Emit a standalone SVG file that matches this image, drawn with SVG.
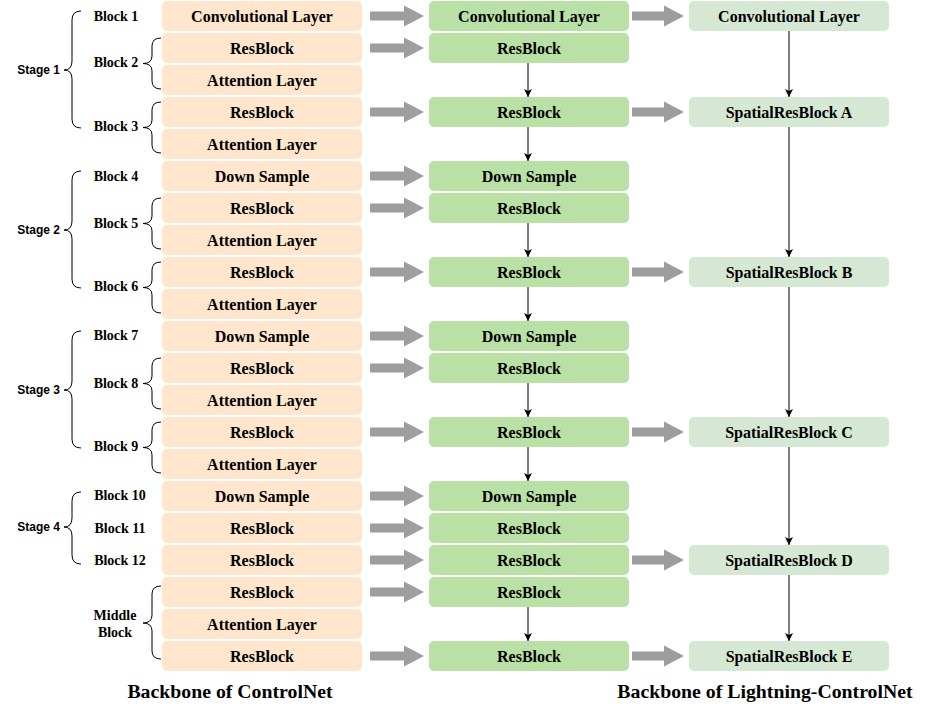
<svg xmlns="http://www.w3.org/2000/svg" xmlns:xlink="http://www.w3.org/1999/xlink" width="926" height="711" viewBox="0 0 926 711">
<style>
.l{fill:#FFE6CC}
.m{fill:#B9E0A5}
.r{fill:#D5E8D4}
.t{font-family:"Liberation Serif","Times New Roman",serif;font-weight:bold;font-size:16px;fill:#000;text-anchor:middle;dominant-baseline:central}
.b{font-family:"Liberation Serif","Times New Roman",serif;font-weight:bold;font-size:14px;fill:#000;text-anchor:middle;dominant-baseline:central}
.s{font-family:"Liberation Sans",Arial,sans-serif;font-weight:bold;font-size:12px;fill:#000;text-anchor:end;dominant-baseline:central}
.h{font-family:"Liberation Serif","Times New Roman",serif;font-weight:bold;font-size:19.8px;fill:#000;text-anchor:middle;dominant-baseline:central}
.br{fill:none;stroke:#000;stroke-width:1}
.ga{fill:#9E9E9E}
.ka{stroke:#000;stroke-width:1;fill:none;marker-end:url(#ah)}
</style>
<defs>
<marker id="ah" viewBox="0 0 8 10" refX="8" refY="5" markerWidth="8" markerHeight="10" markerUnits="userSpaceOnUse" orient="auto">
<path d="M0,1 L8,5 L0,9 L2,5 Z" fill="#000"/>
</marker>
<polygon id="gL" points="0,-4.5 34,-4.5 34,-10.5 54,0 34,10.5 34,4.5 0,4.5"/>
<polygon id="gR" points="0,-4.5 32,-4.5 32,-10.5 52,0 32,10.5 32,4.5 0,4.5"/>
</defs>
<rect width="926" height="711" fill="#fff"/>

<g id="controlnet">
<g id="l0"><rect class="l" x="162" y="1" width="200" height="30" rx="5"/><text class="t" x="262" y="16">Convolutional Layer</text></g>
<g id="l1"><rect class="l" x="162" y="33" width="200" height="30" rx="5"/><text class="t" x="262" y="48">ResBlock</text></g>
<g id="l2"><rect class="l" x="162" y="65" width="200" height="30" rx="5"/><text class="t" x="262" y="80">Attention Layer</text></g>
<g id="l3"><rect class="l" x="162" y="97" width="200" height="30" rx="5"/><text class="t" x="262" y="112">ResBlock</text></g>
<g id="l4"><rect class="l" x="162" y="129" width="200" height="30" rx="5"/><text class="t" x="262" y="144">Attention Layer</text></g>
<g id="l5"><rect class="l" x="162" y="161" width="200" height="30" rx="5"/><text class="t" x="262" y="176">Down Sample</text></g>
<g id="l6"><rect class="l" x="162" y="193" width="200" height="30" rx="5"/><text class="t" x="262" y="208">ResBlock</text></g>
<g id="l7"><rect class="l" x="162" y="225" width="200" height="30" rx="5"/><text class="t" x="262" y="240">Attention Layer</text></g>
<g id="l8"><rect class="l" x="162" y="257" width="200" height="30" rx="5"/><text class="t" x="262" y="272">ResBlock</text></g>
<g id="l9"><rect class="l" x="162" y="289" width="200" height="30" rx="5"/><text class="t" x="262" y="304">Attention Layer</text></g>
<g id="l10"><rect class="l" x="162" y="321" width="200" height="30" rx="5"/><text class="t" x="262" y="336">Down Sample</text></g>
<g id="l11"><rect class="l" x="162" y="353" width="200" height="30" rx="5"/><text class="t" x="262" y="368">ResBlock</text></g>
<g id="l12"><rect class="l" x="162" y="385" width="200" height="30" rx="5"/><text class="t" x="262" y="400">Attention Layer</text></g>
<g id="l13"><rect class="l" x="162" y="417" width="200" height="30" rx="5"/><text class="t" x="262" y="432">ResBlock</text></g>
<g id="l14"><rect class="l" x="162" y="449" width="200" height="30" rx="5"/><text class="t" x="262" y="464">Attention Layer</text></g>
<g id="l15"><rect class="l" x="162" y="481" width="200" height="30" rx="5"/><text class="t" x="262" y="496">Down Sample</text></g>
<g id="l16"><rect class="l" x="162" y="513" width="200" height="30" rx="5"/><text class="t" x="262" y="528">ResBlock</text></g>
<g id="l17"><rect class="l" x="162" y="545" width="200" height="30" rx="5"/><text class="t" x="262" y="560">ResBlock</text></g>
<g id="l18"><rect class="l" x="162" y="577" width="200" height="30" rx="5"/><text class="t" x="262" y="592">ResBlock</text></g>
<g id="l19"><rect class="l" x="162" y="609" width="200" height="30" rx="5"/><text class="t" x="262" y="624">Attention Layer</text></g>
<g id="l20"><rect class="l" x="162" y="641" width="200" height="30" rx="5"/><text class="t" x="262" y="656">ResBlock</text></g>
</g>

<g id="middle">
<g id="m0"><rect class="m" x="429" y="1" width="200" height="30" rx="5"/><text class="t" x="529" y="16">Convolutional Layer</text></g>
<g id="m1"><rect class="m" x="429" y="33" width="200" height="30" rx="5"/><text class="t" x="529" y="48">ResBlock</text></g>
<g id="m3"><rect class="m" x="429" y="97" width="200" height="30" rx="5"/><text class="t" x="529" y="112">ResBlock</text></g>
<g id="m5"><rect class="m" x="429" y="161" width="200" height="30" rx="5"/><text class="t" x="529" y="176">Down Sample</text></g>
<g id="m6"><rect class="m" x="429" y="193" width="200" height="30" rx="5"/><text class="t" x="529" y="208">ResBlock</text></g>
<g id="m8"><rect class="m" x="429" y="257" width="200" height="30" rx="5"/><text class="t" x="529" y="272">ResBlock</text></g>
<g id="m10"><rect class="m" x="429" y="321" width="200" height="30" rx="5"/><text class="t" x="529" y="336">Down Sample</text></g>
<g id="m11"><rect class="m" x="429" y="353" width="200" height="30" rx="5"/><text class="t" x="529" y="368">ResBlock</text></g>
<g id="m13"><rect class="m" x="429" y="417" width="200" height="30" rx="5"/><text class="t" x="529" y="432">ResBlock</text></g>
<g id="m15"><rect class="m" x="429" y="481" width="200" height="30" rx="5"/><text class="t" x="529" y="496">Down Sample</text></g>
<g id="m16"><rect class="m" x="429" y="513" width="200" height="30" rx="5"/><text class="t" x="529" y="528">ResBlock</text></g>
<g id="m17"><rect class="m" x="429" y="545" width="200" height="30" rx="5"/><text class="t" x="529" y="560">ResBlock</text></g>
<g id="m18"><rect class="m" x="429" y="577" width="200" height="30" rx="5"/><text class="t" x="529" y="592">ResBlock</text></g>
<g id="m20"><rect class="m" x="429" y="641" width="200" height="30" rx="5"/><text class="t" x="529" y="656">ResBlock</text></g>
</g>

<g id="lightning">
<g id="r0"><rect class="r" x="689" y="1" width="200" height="30" rx="5"/><text class="t" x="789" y="16">Convolutional Layer</text></g>
<g id="rA"><rect class="r" x="689" y="97" width="200" height="30" rx="5"/><text class="t" x="789" y="112">SpatialResBlock A</text></g>
<g id="rB"><rect class="r" x="689" y="257" width="200" height="30" rx="5"/><text class="t" x="789" y="272">SpatialResBlock B</text></g>
<g id="rC"><rect class="r" x="689" y="417" width="200" height="30" rx="5"/><text class="t" x="789" y="432">SpatialResBlock C</text></g>
<g id="rD"><rect class="r" x="689" y="545" width="200" height="30" rx="5"/><text class="t" x="789" y="560">SpatialResBlock D</text></g>
<g id="rE"><rect class="r" x="689" y="641" width="200" height="30" rx="5"/><text class="t" x="789" y="656">SpatialResBlock E</text></g>
</g>

<g id="connectors">
<g class="ga">
<use xlink:href="#gL" x="370" y="16"/>
<use xlink:href="#gL" x="370" y="48"/>
<use xlink:href="#gL" x="370" y="112"/>
<use xlink:href="#gL" x="370" y="176"/>
<use xlink:href="#gL" x="370" y="208"/>
<use xlink:href="#gL" x="370" y="272"/>
<use xlink:href="#gL" x="370" y="336"/>
<use xlink:href="#gL" x="370" y="368"/>
<use xlink:href="#gL" x="370" y="432"/>
<use xlink:href="#gL" x="370" y="496"/>
<use xlink:href="#gL" x="370" y="528"/>
<use xlink:href="#gL" x="370" y="560"/>
<use xlink:href="#gL" x="370" y="592"/>
<use xlink:href="#gL" x="370" y="656"/>
<use xlink:href="#gR" x="632" y="16"/>
<use xlink:href="#gR" x="632" y="112"/>
<use xlink:href="#gR" x="632" y="272"/>
<use xlink:href="#gR" x="632" y="432"/>
<use xlink:href="#gR" x="632" y="560"/>
<use xlink:href="#gR" x="632" y="656"/>
</g>
<path class="ka" d="M528,63 L528,97"/>
<path class="ka" d="M528,127 L528,161"/>
<path class="ka" d="M528,223 L528,257"/>
<path class="ka" d="M528,287 L528,321"/>
<path class="ka" d="M528,383 L528,417"/>
<path class="ka" d="M528,447 L528,481"/>
<path class="ka" d="M528,607 L528,641"/>
<path class="ka" d="M789,31 L789,97"/>
<path class="ka" d="M789,127 L789,257"/>
<path class="ka" d="M789,287 L789,417"/>
<path class="ka" d="M789,447 L789,545"/>
<path class="ka" d="M789,575 L789,641"/>
</g>

<g id="braces">
<path class="br" d="M81,11 Q72,11 72,20 L72,61 Q72,70 64,70 Q72,70 72,79 L72,119 Q72,128 81,128"/>
<path class="br" d="M81,171 Q72,171 72,180 L72,221 Q72,230 64,230 Q72,230 72,239 L72,279 Q72,288 81,288"/>
<path class="br" d="M81,331 Q72,331 72,340 L72,381 Q72,390 64,390 Q72,390 72,399 L72,439 Q72,448 81,448"/>
<path class="br" d="M81,492 Q72,492 72,501 L72,518 Q72,527 64,527 Q72,527 72,536 L72,555 Q72,564 81,564"/>
<path class="br" d="M161,38 Q152,38 152,46 L152,56 Q152,63.5 143,63.5 Q152,63.5 152,71 L152,81 Q152,89 161,89"/>
<path class="br" d="M161,102 Q152,102 152,110 L152,120 Q152,127.5 143,127.5 Q152,127.5 152,135 L152,145 Q152,153 161,153"/>
<path class="br" d="M161,198 Q152,198 152,206 L152,216 Q152,223.5 143,223.5 Q152,223.5 152,231 L152,241 Q152,249 161,249"/>
<path class="br" d="M161,262 Q152,262 152,270 L152,280 Q152,287.5 143,287.5 Q152,287.5 152,295 L152,305 Q152,313 161,313"/>
<path class="br" d="M161,358 Q152,358 152,366 L152,376 Q152,383.5 143,383.5 Q152,383.5 152,391 L152,401 Q152,409 161,409"/>
<path class="br" d="M161,422 Q152,422 152,430 L152,440 Q152,447.5 143,447.5 Q152,447.5 152,455 L152,465 Q152,473 161,473"/>
<path class="br" d="M161,586 Q152,586 152,594 L152,615 Q152,623 143,623 Q152,623 152,631 L152,651 Q152,659 161,659"/>
</g>

<g id="labels">
<text class="s" x="60" y="70">Stage 1</text>
<text class="s" x="60" y="230">Stage 2</text>
<text class="s" x="60" y="390">Stage 3</text>
<text class="s" x="60" y="527">Stage 4</text>
<text class="b" x="116" y="16">Block 1</text>
<text class="b" x="116" y="62">Block 2</text>
<text class="b" x="116" y="126">Block 3</text>
<text class="b" x="116" y="176">Block 4</text>
<text class="b" x="116" y="223">Block 5</text>
<text class="b" x="116" y="286">Block 6</text>
<text class="b" x="116" y="335">Block 7</text>
<text class="b" x="116" y="383">Block 8</text>
<text class="b" x="116" y="446">Block 9</text>
<text class="b" x="120" y="495">Block 10</text>
<text class="b" x="120" y="528">Block 11</text>
<text class="b" x="120" y="560">Block 12</text>
<text class="b" x="115" y="615">Middle</text>
<text class="b" x="115" y="632">Block</text>
<text class="h" x="230" y="691">Backbone of ControlNet</text>
<text class="h" x="765" y="691">Backbone of Lightning-ControlNet</text>
</g>
</svg>
